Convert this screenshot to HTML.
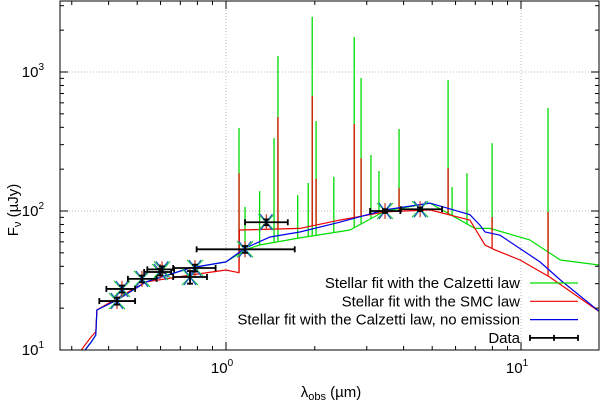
<!DOCTYPE html>
<html><head><meta charset="utf-8"><style>
html,body{margin:0;padding:0;background:#fff}
svg{display:block;font-family:"Liberation Sans",sans-serif}
</style></head><body>
<svg id="chart" width="600" height="405" viewBox="0 0 600 405"></svg>
<script>
// ---- data ----
const xTickVals = [1, 10];
const xTickLabels = ["10", "10"];
const xTickExps = ["0", "1"];
const yTickVals = [10, 100, 1000];
const yTickExps = ["1", "2", "3"];

const dataWl = [0.427, 0.444, 0.519, 0.598, 0.607, 0.755, 0.785, 1.16, 1.37, 3.46, 4.55];
const dataWlLo = [0.372, 0.393, 0.465, 0.528, 0.541, 0.662, 0.662, 0.795, 1.16, 3.08, 3.92];
const dataWlHi = [0.492, 0.492, 0.582, 0.652, 0.667, 0.862, 0.922, 1.71, 1.62, 3.90, 5.40];
const dataFlux = [22.5, 27.5, 32.5, 36.4, 38, 33.5, 38.9, 53, 83, 100, 103];
const dataFluxErr = [1.3, 1.6, 1.8, 2.0, 2.0, 3.5, 2.2, 3, 4, 3, 3];

const blueWl = [0.30, 0.333, 0.35, 0.362, 0.365, 0.427, 0.536, 0.755, 1.0, 1.16, 1.41, 1.78, 2.43, 3.46, 4.91, 6.71, 7.26, 7.55, 8.49, 11.6, 13.6, 18.5];
const blueFlux = [7, 10, 11.5, 12.8, 19.4, 22.9, 30.9, 38.9, 43, 54, 65, 70.6, 83, 101.9, 114, 94, 79, 70.6, 67, 43, 31.9, 18.8];
const greenWl = [0.30, 0.333, 0.35, 0.362, 0.365, 0.427, 0.536, 0.755, 1.0, 1.16, 1.30, 1.78, 2.63, 3.46, 4.91, 6.98, 7.85, 10.7, 13.6, 18.5];
const greenFlux = [7, 10, 11.5, 12.8, 19.4, 22.9, 30.9, 38.9, 43, 52.5, 56.9, 64, 73, 100, 114, 75, 75, 62, 44.4, 40.8];
const redWl = [0.30, 0.333, 0.35, 0.362, 0.365, 0.427, 0.536, 0.755, 1.0, 1.107, 1.11, 1.78, 2.43, 3.46, 4.91, 6.71, 7.55, 8.17, 9.93, 12.5, 18.5];
const redFlux = [8, 10.9, 12.5, 13.5, 19.4, 23.5, 30.9, 34.6, 37.6, 36, 73, 75, 86, 98.5, 101.9, 86, 56.9, 52.5, 44.4, 33.5, 18.8];

const lineWl = [1.107, 1.16, 1.30, 1.455, 1.50, 1.75, 1.90, 1.96, 2.02, 2.32, 2.72, 2.87, 3.10, 3.30, 3.86, 5.66, 5.84, 6.56, 7.98, 12.35];
const lineGreenPeak = [395, 107, 139, 335, 1303, 130, 159, 2490, 444, 176, 1786, 906, 253, 194, 389, 875, 149, 187, 308, 551];
const lineRedPeak = [187, 0, 0, 0, 475, 0, 0, 672, 170, 0, 423, 240, 0, 0, 146, 204, 0, 0, 90.6, 98.4];

// ---- axes ----
const L = 60, R = 599, T = 1, B = 350;
const X0 = 226, XDEC = 295, Y0 = 350, YDEC = 139;
const xs = v => X0 + Math.log10(v) * XDEC;
const ys = v => Y0 - (Math.log10(v) - 1) * YDEC;
const NS = "http://www.w3.org/2000/svg";
const svg = document.getElementById("chart");
function mk(tag, attrs, parent) {
  const e = document.createElementNS(NS, tag);
  for (const k in attrs) e.setAttribute(k, attrs[k]);
  (parent || svg).appendChild(e);
  return e;
}
const defs = mk("defs", {});
const cp = mk("clipPath", {id: "clip"}, defs);
mk("rect", {x: L, y: T, width: R - L, height: B - T}, cp);

// grid
const grid = mk("g", {stroke: "#bbb", "stroke-width": 1, "stroke-dasharray": "1,2"});


xTickVals.forEach(v => mk("line", {x1: xs(v), x2: xs(v), y1: T, y2: B}, grid));
yTickVals.slice(1).forEach(v => mk("line", {x1: L, x2: R, y1: ys(v), y2: ys(v)}, grid));

// series
const plot = mk("g", {"clip-path": "url(#clip)"});


function interp(wl, fl, w) {
  for (let i = 0; i < wl.length - 1; i++) {
    if (w >= wl[i] && w <= wl[i + 1]) {
      const t = (Math.log10(w) - Math.log10(wl[i])) / (Math.log10(wl[i + 1]) - Math.log10(wl[i]));
      return Math.pow(10, Math.log10(fl[i]) + t * (Math.log10(fl[i + 1]) - Math.log10(fl[i])));
    }
  }
  return fl[fl.length - 1];
}
function series(wl, fl, color, name) {
  const p = mk("polyline", {points: wl.map((w, i) => xs(w).toFixed(1) + "," + ys(fl[i]).toFixed(1)).join(" "), fill: "none", stroke: color, "stroke-width": 1.2}, plot);
  
  
}
series(greenWl, greenFlux, "#00dd00", "calzetti-fit-line");
lineWl.forEach((w, i) => {
  const l = mk("line", {x1: xs(w), x2: xs(w), y1: ys(interp(greenWl, greenFlux, w)), y2: ys(lineGreenPeak[i]), stroke: "#00dd00", "stroke-width": 1.3}, plot);
  
  
});
series(redWl, redFlux, "#ee0000", "smc-fit-line");
lineWl.forEach((w, i) => {
  if (!lineRedPeak[i]) return;
  const l = mk("line", {x1: xs(w), x2: xs(w), y1: ys(interp(redWl, redFlux, w)), y2: ys(lineRedPeak[i]), stroke: "#dd1100", "stroke-width": 1.3}, plot);
  
  
});
series(blueWl, blueFlux, "#0000ee", "calzetti-no-emission-line");

// model band markers
dataWl.forEach((w, i) => {
  const cx = xs(w), cy = ys(dataFlux[i]);
  const g = mk("g", {}, plot);
  
  
  const s = 8;
  mk("path", {d: `M${cx-s},${cy-s}L${cx+s},${cy+s}M${cx-s},${cy+s}L${cx+s},${cy-s}`, stroke: "#22cc44", "stroke-width": 1.2}, g);
  mk("path", {d: `M${cx-s+2},${cy-s}L${cx+s-2},${cy+s}M${cx-s+2},${cy+s}L${cx+s-2},${cy-s}`, stroke: "#2255cc", "stroke-width": 1.2}, g);
  mk("path", {d: `M${cx},${cy-s}L${cx},${cy+s}M${cx-s},${cy}L${cx+s},${cy}`, stroke: "#cc3322", "stroke-width": 1.2}, g);
});

// data error bars
dataWl.forEach((w, i) => {
  const g = mk("g", {stroke: "#000", "stroke-width": 1.8}, plot);
  
  
  const cx = xs(w), cy = ys(dataFlux[i]), x1 = xs(dataWlLo[i]), x2 = xs(dataWlHi[i]);
  const y1 = ys(dataFlux[i] + dataFluxErr[i]), y2 = ys(dataFlux[i] - dataFluxErr[i]);
  mk("line", {x1: x1, x2: x2, y1: cy, y2: cy}, g);
  mk("line", {x1: x1, x2: x1, y1: cy - 3, y2: cy + 3}, g);
  mk("line", {x1: x2, x2: x2, y1: cy - 3, y2: cy + 3}, g);
  mk("line", {x1: cx, x2: cx, y1: y1, y2: y2}, g);
  mk("line", {x1: cx - 3, x2: cx + 3, y1: y1, y2: y1}, g);
  mk("line", {x1: cx - 3, x2: cx + 3, y1: y2, y2: y2}, g);
});

// frame and ticks
const ax = mk("g", {stroke: "#000", "stroke-width": 1, fill: "none"});


mk("rect", {x: L, y: T, width: R - L, height: B - T}, ax);
for (let d = -1; d <= 1; d++) for (let m = 1; m <= 9; m++) {
  const v = m * Math.pow(10, d), x = xs(v);
  if (x < L || x > R) continue;
  const len = m === 1 ? 8 : 4;
  mk("line", {x1: x, x2: x, y1: B, y2: B - len}, ax);
  mk("line", {x1: x, x2: x, y1: T, y2: T + len}, ax);
}
for (let d = 1; d <= 3; d++) for (let m = 1; m <= 9; m++) {
  const v = m * Math.pow(10, d), y = ys(v);
  if (y < T || y > B) continue;
  const len = m === 1 ? 8 : 4;
  mk("line", {x1: L, x2: L + len, y1: y, y2: y}, ax);
  mk("line", {x1: R, x2: R - len, y1: y, y2: y}, ax);
}
// tick labels
xTickVals.forEach((v, i) => {
  const t = mk("text", {x: xs(v) - 4, y: 373, "font-size": 15, "text-anchor": "middle", fill: "#000"});
  
  
  t.textContent = xTickLabels[i];
  const e = mk("tspan", {dy: -7, "font-size": 10}, t); e.textContent = xTickExps[i];
});
yTickVals.forEach((v, i) => {
  const t = mk("text", {x: 44, y: ys(v) + 5, "font-size": 15, "text-anchor": "end", fill: "#000"});
  
  
  t.textContent = "10";
  const e = mk("tspan", {dy: -7, "font-size": 10}, t); e.textContent = yTickExps[i];
});
// axis titles
const xt = mk("text", {x: 331, y: 397, "font-size": 15, "text-anchor": "middle", fill: "#000"});


xt.innerHTML = 'λ<tspan font-size="11" dy="3">obs</tspan><tspan dy="-3"> (µm)</tspan>';
const yt = mk("text", {transform: "translate(18,210) rotate(-90)", "font-size": 15, "text-anchor": "middle", fill: "#000"});


yt.innerHTML = 'F<tspan font-size="11" dy="3">ν</tspan><tspan dy="-3"> (µJy)</tspan>';

// legend
const legText = ["Stellar fit with the Calzetti law", "Stellar fit with the SMC law", "Stellar fit with the Calzetti law, no emission", "Data"];
const legColor = ["#00dd00", "#ee0000", "#0000ee", "#000"];
const leg = mk("g", {});


legText.forEach((s, i) => {
  const y = 283 + i * 18.3;
  const g = mk("g", {}, leg);
  
  
  const t = mk("text", {x: 520, y: y + 5, "font-size": 15, "text-anchor": "end", fill: "#000"}, g);
  t.textContent = s;
  mk("line", {x1: 530, x2: 578, y1: y, y2: y, stroke: legColor[i], "stroke-width": i === 3 ? 1.8 : 1.2}, g);
  if (i === 3) {
    [530, 554, 578].forEach(x => mk("line", {x1: x, x2: x, y1: y - 3, y2: y + 3, stroke: "#000", "stroke-width": 1.8}, g));
  }
});
</script>
</body></html>
